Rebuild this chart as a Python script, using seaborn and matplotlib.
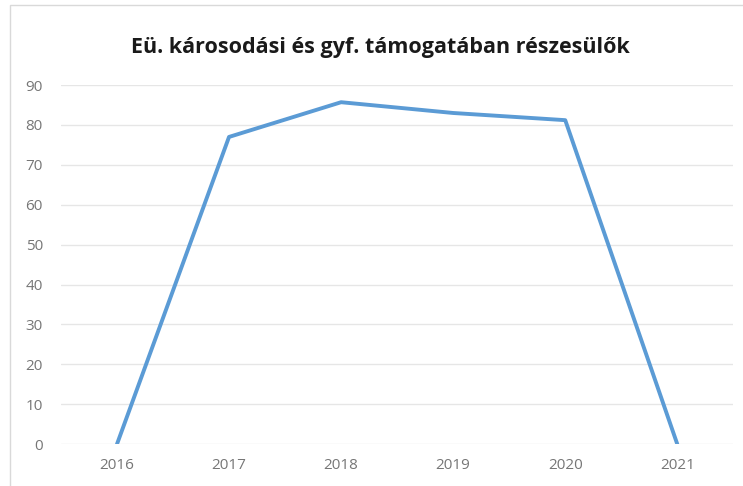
import pandas as pd
import seaborn as sns
import matplotlib.pyplot as plt
from matplotlib.patches import Rectangle

years = ['2016', '2017', '2018', '2019', '2020', '2021']
values = [0, 77, 85.7, 83, 81.2, 0]
yticks = [0, 10, 20, 30, 40, 50, 60, 70, 80, 90]

df = pd.DataFrame({'year': years, 'value': values})

sns.set_theme(style='white')
plt.rcParams['font.family'] = ['Open Sans', 'DejaVu Sans']

fig = plt.figure(figsize=(7.43, 4.86), dpi=100)
ax = fig.add_axes([0.082, 0.086, 0.905, 0.739])

sns.lineplot(data=df, x='year', y='value', sort=False, color='#5B9BD5', linewidth=2.8, ax=ax)

ax.set_xlim(-0.5, 5.5)
ax.set_ylim(0, 90)
ax.set_yticks(yticks)
ax.yaxis.grid(True, color='#E6E6E6', linewidth=1)
ax.set_axisbelow(True)
for s in ax.spines.values():
    s.set_visible(False)
ax.set_xlabel('')
ax.set_ylabel('')
ax.tick_params(axis='both', colors='#767676', labelsize=11, length=0)
ax.tick_params(axis='x', pad=10)
ax.tick_params(axis='y', pad=13)

fig.text(0.512, 0.903, 'Eü. károsodási és gyf. támogatában részesülők', ha='center', va='center',
         fontsize=15.5, fontweight='bold', color='#1a1a1a')

fig.patches.append(Rectangle((0.013, -0.01), 0.99, 1.0, transform=fig.transFigure,
                             fill=False, edgecolor='#D9D9D9', linewidth=1))

fig.savefig('out.png', dpi=100)
